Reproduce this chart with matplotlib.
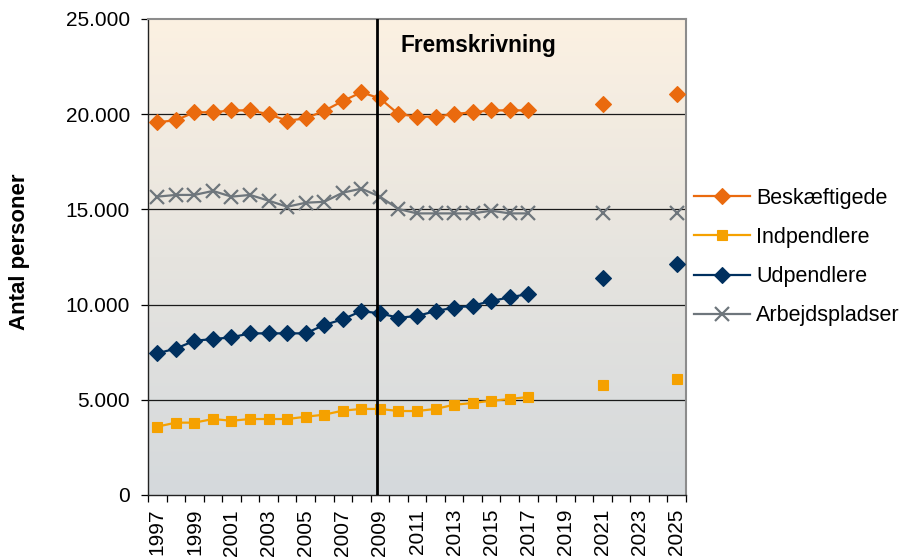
import matplotlib
matplotlib.use('Agg')
import matplotlib.pyplot as plt
from matplotlib.colors import LinearSegmentedColormap
from matplotlib.ticker import FuncFormatter, MultipleLocator
import numpy as np
import pandas as pd

plt.rcParams['font.family'] = ['Liberation Sans', 'DejaVu Sans']

# data (2018-2020 and 2022-2024 are missing)
years = list(range(1997, 2018)) + [2021, 2025]
beskaeftigede = [19580, 19680, 20100, 20100, 20200, 20200, 20000, 19660, 19780, 20180,
                 20690, 21150, 20830, 20010, 19870, 19870, 20010, 20100, 20200, 20200,
                 20200, 20520, 21040]
indpendlere = [3590, 3800, 3800, 3990, 3900, 3990, 3990, 3990, 4110, 4220,
               4430, 4520, 4520, 4410, 4410, 4520, 4740, 4830, 4950, 5040,
               5150, 5760, 6080]
udpendlere = [7440, 7690, 8100, 8190, 8280, 8490, 8490, 8490, 8490, 8930,
              9230, 9660, 9540, 9310, 9400, 9660, 9840, 9940, 10190, 10380,
              10560, 11410, 12120]
arbejdspladser = [15670, 15760, 15760, 15970, 15670, 15760, 15460, 15140, 15350, 15400,
                  15880, 16090, 15670, 15020, 14790, 14790, 14790, 14790, 14930, 14790,
                  14790, 14790, 14790]

series_names = ['Beskæftigede', 'Indpendlere', 'Udpendlere', 'Arbejdspladser']
all_years = list(range(1997, 2026))
forecast_start = 2009

df = pd.DataFrame({'Beskæftigede': beskaeftigede, 'Indpendlere': indpendlere,
                   'Udpendlere': udpendlere, 'Arbejdspladser': arbejdspladser},
                  index=years).reindex(all_years)

styles = {
    'Beskæftigede': dict(color='#EA6A0E', marker='D', ms=8, mew=0.8),
    'Indpendlere': dict(color='#F5A100', marker='s', ms=7.5, mew=0.8),
    'Udpendlere': dict(color='#00305F', marker='D', ms=8, mew=0.8),
    'Arbejdspladser': dict(color='#6E767C', marker='x', ms=10, mew=1.6),
}

fig = plt.figure(figsize=(9.04, 5.58), dpi=100)
ax = fig.add_axes([148 / 904, 63 / 558, 538 / 904, 476 / 558])

# background gradient, cream at the top to grey at the bottom
cmap = LinearSegmentedColormap.from_list('bg', ['#D5D9DC', '#E6E4DF', '#FCF1E2'])
grad = np.linspace(0, 1, 256).reshape(-1, 1)
ax.imshow(grad, cmap=cmap, origin='lower', aspect='auto',
          extent=[1996.5, 2025.5, 0, 25000], zorder=0)

for v in range(5000, 25000, 5000):
    ax.axhline(v, color='#1a1a1a', lw=0.9, zorder=1)

for name in series_names:
    st = styles[name]
    ax.plot(df.index, df[name], color=st['color'], lw=1.6, marker=st['marker'],
            ms=st['ms'], mew=st['mew'], mec=st['color'], mfc=st['color'],
            label=name, zorder=3)

ax.axvline(forecast_start - 0.13, color='black', lw=2, zorder=4)
ax.text(forecast_start + 1.1, 23600, 'Fremskrivning', fontsize=16.3,
        fontweight='bold', va='center', ha='left', zorder=5)

ax.set_xlim(1996.5, 2025.5)
ax.set_ylim(0, 25000)

ax.set_xticks(all_years[::2])
ax.set_xticklabels([str(y) for y in all_years[::2]], rotation=90, fontsize=15)
ax.xaxis.set_minor_locator(MultipleLocator(1, offset=0.5))
ax.tick_params(axis='x', which='major', length=0, pad=10)
ax.tick_params(axis='x', which='minor', length=5, width=0.9, direction='out')

ax.yaxis.set_major_locator(MultipleLocator(5000))
ax.yaxis.set_major_formatter(FuncFormatter(lambda v, p: f'{v:,.0f}'.replace(',', '.')))
ax.tick_params(axis='y', length=5, width=0.9, pad=8, labelsize=15)

for side in ['left', 'bottom']:
    ax.spines[side].set_color('#222222')
    ax.spines[side].set_linewidth(1.0)
for side in ['top', 'right']:
    ax.spines[side].set_color('#8c8c8c')
    ax.spines[side].set_linewidth(1.5)

fig.text(20 / 904, 1 - 252 / 558, 'Antal personer', rotation=90, fontsize=16,
         fontweight='bold', ha='center', va='center')

fig.legend(loc='center left', bbox_to_anchor=(694 / 904, 1 - 257 / 558),
           frameon=False, fontsize=15.5, handlelength=2.6, handletextpad=0.3,
           labelspacing=0.85, borderpad=0, borderaxespad=0)

fig.savefig('out.png', dpi=100)
